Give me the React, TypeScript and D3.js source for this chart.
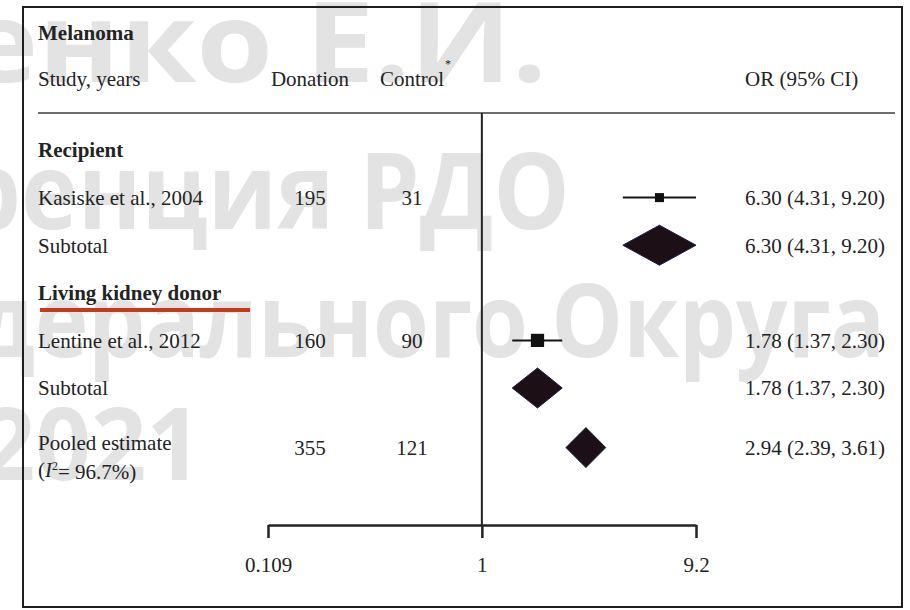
import { useRef, useEffect } from "react";
import * as d3 from "d3";

// forest plot rows (top to bottom)
const rowLabels = ["Recipient", "Kasiske et al., 2004", "Subtotal", "Living kidney donor", "Lentine et al., 2012", "Subtotal", "Pooled estimate"];
const rowKinds = ["group", "study", "subtotal", "group", "study", "subtotal", "pooled"];
const donationN = [null, 195, null, null, 160, null, 355];
const controlN = [null, 31, null, null, 90, null, 121];
const oddsRatio = [null, 6.30, 6.30, null, 1.78, 1.78, 2.94];
const ciLower = [null, 4.31, 4.31, null, 1.37, 1.37, 2.39];
const ciUpper = [null, 9.20, 9.20, null, 2.30, 2.30, 3.61];
const studyWeight = [null, 31.8, null, null, 68.2, null, null];
const axisTicks = [0.109, 1, 9.2];
const iSquared = "96.7%";
const watermarkLines = ["енко Е.И.", "ренция РДО", "дерального Округа", "2021"];

export default function App() {
  const svgRef = useRef(null);

  useEffect(() => {
    const W = 910, H = 610;
    const serif = "'Liberation Serif', 'Times New Roman', serif";
    const ink = "#232323";

    const svg = d3.select(svgRef.current).attr("width", W).attr("height", H);
    svg.selectAll("*").remove();

    svg.append("rect").attr("width", W).attr("height", H).attr("fill", "#fff");

    // watermark behind everything
    const wmLayout = [
      { x: -35, y: 82, w: 582, size: 112 },
      { x: -40, y: 229, w: 610, size: 106 },
      { x: -25, y: 357, w: 910, size: 102 },
      { x: -20, y: 480, w: 222, size: 100 },
    ];
    svg.append("g")
      .selectAll("text")
      .data(watermarkLines)
      .join("text")
      .attr("x", (d, i) => wmLayout[i].x)
      .attr("y", (d, i) => wmLayout[i].y)
      .attr("textLength", (d, i) => wmLayout[i].w)
      .attr("lengthAdjust", "spacingAndGlyphs")
      .attr("font-family", "'Open Sans', 'Noto Sans', sans-serif")
      .attr("font-weight", 700)
      .attr("font-size", (d, i) => wmLayout[i].size)
      .attr("fill", "#e3e3e3")
      .text((d) => d);

    // frame
    svg.append("rect")
      .attr("x", 23).attr("y", 7).attr("width", 879).attr("height", 600)
      .attr("fill", "none").attr("stroke", "#1e1e1e").attr("stroke-width", 2);

    const x = d3.scaleLog().domain([0.109, 9.2]).range([268, 696]);
    const rowY = d3.scaleLinear().domain([0, 5]).range([150, 388]);
    const yOf = (i: number) => (rowKinds[i] === "pooled" ? rowY(i) + 12 : rowY(i));
    const sq = d3.scaleSqrt().domain([0, 100]).range([0, 16]);

    const colStudy = 38, colDon = 310, colCtl = 412, colOR = 745;

    const txt = svg.append("g").attr("font-family", serif).attr("font-size", 21).attr("fill", ink);

    // headers
    txt.append("text").attr("x", colStudy).attr("y", 33).attr("dy", "0.35em")
      .attr("font-weight", 700).text("Melanoma");
    txt.append("text").attr("x", colStudy).attr("y", 79).attr("dy", "0.35em").text("Study, years");
    txt.append("text").attr("x", colDon).attr("y", 79).attr("dy", "0.35em")
      .attr("text-anchor", "middle").text("Donation");
    txt.append("text").attr("x", colCtl).attr("y", 79).attr("dy", "0.35em")
      .attr("text-anchor", "middle").text("Control");
    txt.append("text").attr("x", 445).attr("y", 68).attr("font-size", 12).text("*");
    txt.append("text").attr("x", colOR).attr("y", 79).attr("dy", "0.35em").text("OR (95% CI)");

    svg.append("line")
      .attr("x1", 38).attr("x2", 895).attr("y1", 113).attr("y2", 113)
      .attr("stroke", "#6e6e6e").attr("stroke-width", 2);

    // row labels
    rowLabels.forEach((label, i) => {
      const kind = rowKinds[i];
      const y = kind === "pooled" ? yOf(i) - 5 : yOf(i);
      txt.append("text").attr("x", colStudy).attr("y", y).attr("dy", "0.35em")
        .attr("font-weight", kind === "group" ? 700 : 400)
        .text(label);
      if (donationN[i] != null) {
        txt.append("text").attr("x", colDon).attr("y", yOf(i)).attr("dy", "0.35em")
          .attr("text-anchor", "middle").text(String(donationN[i]));
      }
      if (controlN[i] != null) {
        txt.append("text").attr("x", colCtl).attr("y", yOf(i)).attr("dy", "0.35em")
          .attr("text-anchor", "middle").text(String(controlN[i]));
      }
      if (oddsRatio[i] != null) {
        txt.append("text").attr("x", colOR).attr("y", yOf(i)).attr("dy", "0.35em")
          .text(`${d3.format(".2f")(oddsRatio[i]!)} (${d3.format(".2f")(ciLower[i]!)}, ${d3.format(".2f")(ciUpper[i]!)})`);
      }
    });

    // I² line under pooled estimate
    const iq = txt.append("text").attr("x", colStudy).attr("y", yOf(6) + 22).attr("dy", "0.35em");
    iq.append("tspan").text("(");
    iq.append("tspan").attr("font-style", "italic").text("I");
    iq.append("tspan").attr("font-size", 12).attr("dy", "-0.6em").text("2");
    iq.append("tspan").attr("dy", "0.45em").text(`= ${iSquared})`);

    // red underline under "Living kidney donor"
    svg.append("line")
      .attr("x1", 40).attr("x2", 250).attr("y1", 310).attr("y2", 310)
      .attr("stroke", "#c43a1b").attr("stroke-width", 4);

    // null line
    svg.append("line")
      .attr("x1", x(1)).attr("x2", x(1)).attr("y1", 113).attr("y2", 525)
      .attr("stroke", ink).attr("stroke-width", 2);

    // study CIs and squares
    const marks = svg.append("g");
    rowKinds.forEach((kind, i) => {
      if (oddsRatio[i] == null) return;
      const y = yOf(i);
      if (kind === "study") {
        marks.append("line")
          .attr("x1", x(ciLower[i]!)).attr("x2", x(ciUpper[i]!))
          .attr("y1", y).attr("y2", y)
          .attr("stroke", "#151515").attr("stroke-width", 2);
        const s = sq(studyWeight[i]!);
        marks.append("rect")
          .attr("x", x(oddsRatio[i]!) - s / 2).attr("y", y - s / 2)
          .attr("width", s).attr("height", s)
          .attr("fill", "#111");
      } else {
        const h = 20;
        const pts: [number, number][] = [
          [x(ciLower[i]!), y],
          [x(oddsRatio[i]!), y - h],
          [x(ciUpper[i]!), y],
          [x(oddsRatio[i]!), y + h],
        ];
        marks.append("path")
          .attr("d", d3.line()(pts) + "Z")
          .attr("fill", "#1c1016")
          .attr("stroke", "#1b1b46")
          .attr("stroke-width", 1);
      }
    });

    // axis
    const axis = d3.axisBottom(x)
      .tickValues(axisTicks)
      .tickFormat((d) => String(d))
      .tickSize(13)
      .tickSizeOuter(0)
      .tickPadding(19);
    const ax = svg.append("g").attr("transform", "translate(0,525)").call(axis);
    ax.select(".domain").attr("stroke", ink).attr("stroke-width", 2.5);
    ax.selectAll(".tick line").attr("stroke", ink).attr("stroke-width", 2.5);
    ax.selectAll(".tick text")
      .attr("font-family", serif)
      .attr("font-size", 21)
      .attr("fill", ink);
  }, []);

  return (
    <svg ref={svgRef} style={{ position: "absolute", left: 0, top: 0 }}></svg>
  );
}
